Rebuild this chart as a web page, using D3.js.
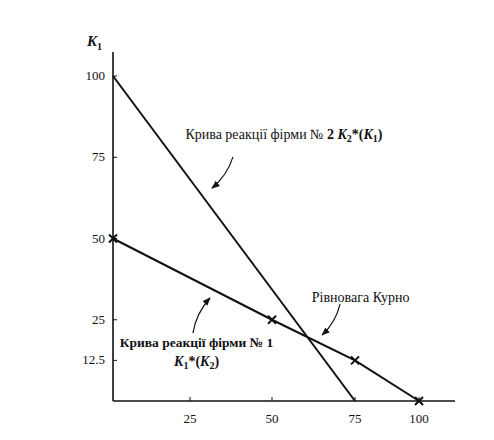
<!DOCTYPE html>
<html>
<head>
<meta charset="utf-8">
<script src="https://cdn.jsdelivr.net/npm/d3@7"></script>
<style>
  body { margin: 0; background: #fff; }
</style>
</head>
<body>
<div id="chart"><svg></svg></div>
<script>
// reaction curves (K2 on x, K1 on y)
var firm2Curve = [[0, 100], [75, 0]];
var firm1Curve = [[0, 50], [50, 25], [75, 12.5], [100, 0]];
var firm1Marks = [[0, 50], [50, 25], [75, 12.5], [100, 0]];
var xTicks = [25, 50, 75, 100];
var yTicks = [100, 75, 50, 25, 12.5];
var yTickLabels = ["100", "75", "50", "25", "12.5"];

var width = 494, height = 440;
var svg = d3.select("#chart").select("svg").attr("width", width).attr("height", height)
  .attr("font-family", "'Liberation Serif', 'Times New Roman', Tinos, 'DejaVu Serif', serif");

// the printed axis is not evenly spaced, so a polylinear scale follows it
var x = d3.scaleLinear().domain([0, 25, 50, 75, 100]).range([113, 190, 272, 355, 419]);
var y = d3.scaleLinear().domain([0, 100]).range([401, 76]);

var ink = "#111";

// axes
svg.append("line").attr("x1", x(0)).attr("x2", x(100) + 36)
  .attr("y1", y(0)).attr("y2", y(0)).attr("stroke", ink).attr("stroke-width", 1.6);
svg.append("line").attr("x1", x(0)).attr("x2", x(0))
  .attr("y1", y(0)).attr("y2", y(100) - 24).attr("stroke", ink).attr("stroke-width", 1.6);

svg.selectAll(".xt").data(xTicks).enter().append("line")
  .attr("x1", function(d) { return x(d); }).attr("x2", function(d) { return x(d); })
  .attr("y1", y(0)).attr("y2", y(0) - 4).attr("stroke", ink).attr("stroke-width", 1);
svg.selectAll(".xl").data(xTicks).enter().append("text")
  .attr("x", function(d) { return x(d); }).attr("y", y(0) + 22)
  .attr("text-anchor", "middle").attr("font-size", 13).attr("fill", ink)
  .text(function(d) { return d; });

svg.selectAll(".yt").data(yTicks).enter().append("line")
  .attr("x1", x(0)).attr("x2", x(0) + 4)
  .attr("y1", function(d) { return y(d); }).attr("y2", function(d) { return y(d); })
  .attr("stroke", ink).attr("stroke-width", 1);
svg.selectAll(".yl").data(yTicks).enter().append("text")
  .attr("x", x(0) - 8).attr("y", function(d) { return y(d) + 4; })
  .attr("text-anchor", "end").attr("font-size", 13).attr("fill", ink)
  .text(function(d, i) { return yTickLabels[i]; });

// axis title K1
var yt = svg.append("text").attr("x", x(0) - 26).attr("y", y(100) - 30)
  .attr("font-size", 15).attr("font-style", "italic").attr("font-weight", "bold").attr("fill", ink);
yt.append("tspan").text("K");
yt.append("tspan").attr("dy", 4).attr("font-size", 10).attr("font-style", "normal").text("1");

// curves
var line = d3.line().x(function(d) { return x(d[0]); }).y(function(d) { return y(d[1]); });
svg.append("path").datum(firm2Curve).attr("d", line)
  .attr("fill", "none").attr("stroke", ink).attr("stroke-width", 2);
svg.append("path").datum(firm1Curve).attr("d", line)
  .attr("fill", "none").attr("stroke", ink).attr("stroke-width", 2);

// x markers
var s = 4;
svg.selectAll(".mk").data(firm1Marks).enter().append("path")
  .attr("d", function(d) {
    var cx = x(d[0]), cy = y(d[1]);
    return "M" + (cx - s) + "," + (cy - s) + "L" + (cx + s) + "," + (cy + s) +
           "M" + (cx - s) + "," + (cy + s) + "L" + (cx + s) + "," + (cy - s);
  })
  .attr("stroke", ink).attr("stroke-width", 2);

// arrows (from, to) in data units
var arrows = [
  [[38.1, 75.1], [31.7, 65.5]],
  [[25.9, 20.9], [31.1, 31.7]],
  [[70.5, 29.8], [65.1, 20.3]]
];
svg.append("defs").append("marker").attr("id", "ah")
  .attr("viewBox", "0 0 10 10").attr("refX", 9).attr("refY", 5)
  .attr("markerWidth", 7).attr("markerHeight", 7).attr("orient", "auto")
  .append("path").attr("d", "M0,1L10,5L0,9Z").attr("fill", ink);
svg.selectAll(".ar").data(arrows).enter().append("path")
  .attr("d", function(d) {
    var x0 = x(d[0][0]), y0 = y(d[0][1]), x1 = x(d[1][0]), y1 = y(d[1][1]);
    var mx = (x0 + x1) / 2 + (y1 - y0) * 0.15, my = (y0 + y1) / 2 - (x1 - x0) * 0.15;
    return "M" + x0 + "," + y0 + "Q" + mx + "," + my + " " + x1 + "," + y1;
  })
  .attr("fill", "none").attr("stroke", ink).attr("stroke-width", 1.2)
  .attr("marker-end", "url(#ah)");

// labels
var t2 = svg.append("text").attr("x", x(23.5)).attr("y", y(80.5)).attr("font-size", 14).attr("fill", ink);
t2.append("tspan").text("Крива реакції фірми № ");
t2.append("tspan").attr("font-weight", "bold").text("2 ");
t2.append("tspan").attr("font-weight", "bold").attr("font-style", "italic").text("K");
t2.append("tspan").attr("font-weight", "bold").attr("font-size", 10).attr("dy", 3).text("2");
t2.append("tspan").attr("font-weight", "bold").attr("dy", -3).text("*(");
t2.append("tspan").attr("font-weight", "bold").attr("font-style", "italic").text("K");
t2.append("tspan").attr("font-weight", "bold").attr("font-size", 10).attr("dy", 3).text("1");
t2.append("tspan").attr("font-weight", "bold").attr("dy", -3).text(")");

svg.append("text").attr("x", x(62)).attr("y", y(30.5)).attr("font-size", 14).attr("fill", ink)
  .text("Рівновага Курно");

svg.append("text").attr("x", x(27)).attr("y", y(16.6)).attr("text-anchor", "middle")
  .attr("font-size", 13.5).attr("font-weight", "bold").attr("fill", ink).text("Крива реакції фірми № 1");
var t1 = svg.append("text").attr("x", x(27)).attr("y", y(10.8)).attr("text-anchor", "middle")
  .attr("font-size", 14).attr("font-weight", "bold").attr("fill", ink);
t1.append("tspan").attr("font-style", "italic").text("K");
t1.append("tspan").attr("font-size", 10).attr("dy", 3).text("1");
t1.append("tspan").attr("dy", -3).text("*(");
t1.append("tspan").attr("font-style", "italic").text("K");
t1.append("tspan").attr("font-size", 10).attr("dy", 3).text("2");
t1.append("tspan").attr("dy", -3).text(")");
</script>
</body>
</html>
